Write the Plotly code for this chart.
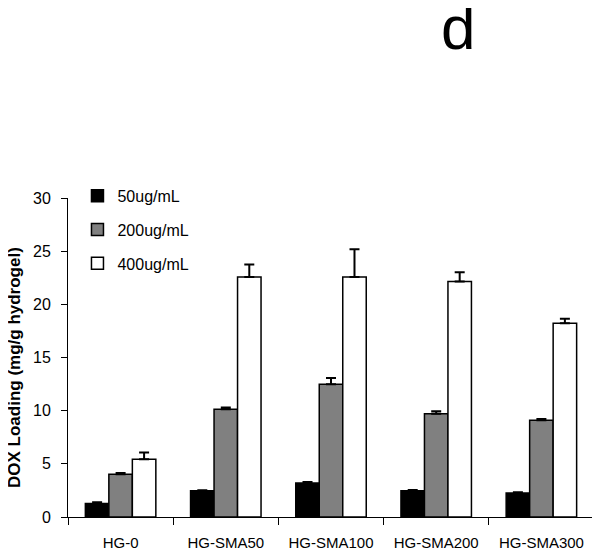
import plotly.graph_objects as go

categories = ["HG-0", "HG-SMA50", "HG-SMA100", "HG-SMA200", "HG-SMA300"]
series_names = ["50ug/mL", "200ug/mL", "400ug/mL"]
vals_50 = [1.26, 2.48, 3.20, 2.48, 2.26]
err_50 = [0.12, 0.03, 0.09, 0.06, 0.06]
vals_200 = [4.02, 10.13, 12.48, 9.72, 9.10]
err_200 = [0.12, 0.16, 0.60, 0.22, 0.12]
vals_400 = [5.43, 22.58, 22.58, 22.14, 18.22]
err_400 = [0.63, 1.16, 2.60, 0.88, 0.42]
colors = ["#000000", "#808080", "#ffffff"]
y_ticks = [0, 5, 10, 15, 20, 25, 30]

FONT = "Liberation Sans, Arial, sans-serif"

# page offset of 8px from the browser's default body margin is compensated below
PW, PH = 526, 319          # plot area size in px
L, T = 60, 190             # left / top margins (page 68 / 198 minus 8)
W, H = 592, 546

fig = go.Figure()
for name, vals, errs, col in zip(series_names, [vals_50, vals_200, vals_400],
                                 [err_50, err_200, err_400], colors):
    fig.add_trace(go.Bar(
        x=categories, y=vals, name=name, legendgroup=name,
        marker=dict(color=col, line=dict(color="#000000", width=1.5)),
        error_y=dict(type="data", array=errs, arrayminus=[0] * len(errs),
                     symmetric=False, color="#000000", thickness=2, width=5),
    ))

fig.update_layout(
    width=W, height=H,
    margin=dict(l=L, r=W - L - PW, t=T, b=H - T - PH, autoexpand=False),
    paper_bgcolor="white", plot_bgcolor="white",
    font=dict(family=FONT, color="#000000"),
    barmode="group", bargap=0.33, bargroupgap=0,
    showlegend=True,
    legend=dict(x=0.018, y=1.06, xanchor="left", yanchor="top",
                font=dict(size=16, family=FONT), tracegroupgap=10,
                bgcolor="rgba(0,0,0,0)", itemclick=False),
    xaxis=dict(type="category", showline=True, linecolor="#000000", linewidth=1,
               ticks="outside", tickson="boundaries", ticklen=7, tickcolor="#000000",
               tickfont=dict(size=15, family=FONT), ticklabelstandoff=12,
               showgrid=False, zeroline=False, automargin=False),
    yaxis=dict(range=[0, 30], tickvals=y_ticks, showline=True, linecolor="#000000",
               linewidth=1, ticks="outside", ticklen=6, tickcolor="#000000",
               tickfont=dict(size=16, family=FONT), showgrid=False, zeroline=False,
               ticklabelstandoff=7, automargin=False),
)
fig.add_annotation(text="d", xref="paper", yref="paper", x=(458 - 68) / PW,
                   y=(517 - 27) / PH, showarrow=False,
                   font=dict(size=62, family=FONT), xanchor="center", yanchor="middle")
fig.add_annotation(text="<b>DOX Loading (mg/g hydrogel)</b>", xref="paper", yref="paper",
                   x=(14 - 68) / PW, y=(517 - 368) / PH, showarrow=False, textangle=-90,
                   font=dict(size=17, family=FONT), xanchor="center", yanchor="middle")

fig.write_html("out.html")
